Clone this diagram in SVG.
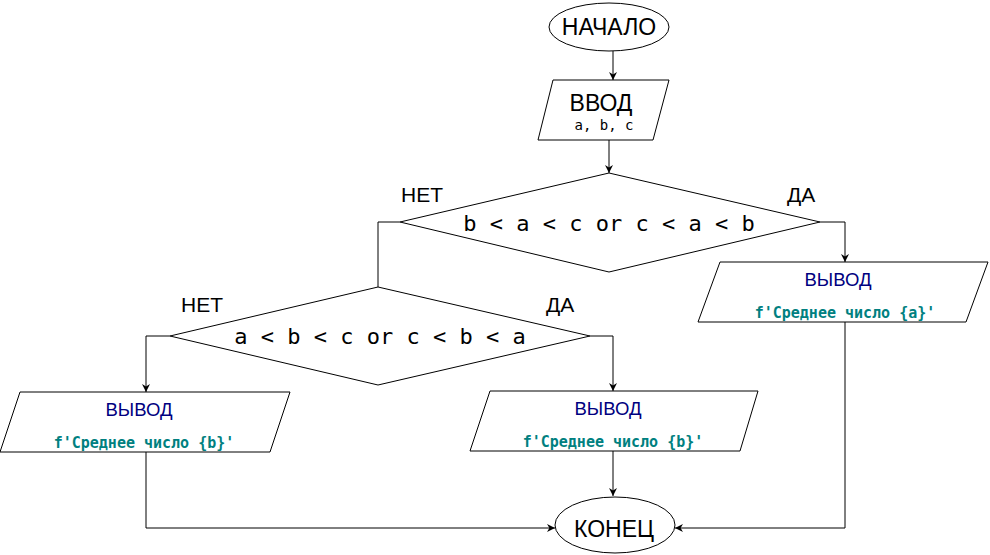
<svg xmlns="http://www.w3.org/2000/svg" width="990" height="555" viewBox="0 0 990 555">
<defs>
<marker id="arr" viewBox="0 0 10 10" refX="10" refY="5" markerWidth="8" markerHeight="8" markerUnits="userSpaceOnUse" orient="auto">
<path d="M0,0 L10,5 L0,10 L3,5 Z" fill="#000"/>
</marker>
<style>
.sh{fill:#fff;stroke:#000;stroke-width:1}
.ln{fill:none;stroke:#000;stroke-width:1;marker-end:url(#arr)}
.pl{fill:none;stroke:#000;stroke-width:1}
.t{font-family:"Liberation Sans",Arial,sans-serif;fill:#000}
.big{font-size:23px}
.lbl{font-size:21px}
.out{font-family:"Liberation Sans",Arial,sans-serif;font-size:18.5px;fill:#000080;text-anchor:middle}
.ft{font-family:"DejaVu Sans Mono","Liberation Mono",monospace;font-size:15px;font-weight:bold;fill:#008080;text-anchor:middle}
.cond{font-family:"DejaVu Sans Mono","Liberation Mono",monospace;font-size:22px;fill:#000;text-anchor:middle}
</style>
</defs>
<rect width="990" height="555" fill="#fff"/>
<g id="connectors">
<path class="ln" d="M613,51 L613,80"/>
<path class="ln" d="M609,140 L609,173"/>
<path class="ln" d="M820,222 L845,222 L845,262"/>
<path class="pl" d="M400,222 L378,222 L378,287"/>
<path class="ln" d="M170,336 L146,336 L146,392"/>
<path class="ln" d="M590,336 L613,336 L613,391"/>
<path class="ln" d="M613,451 L613,496"/>
<path class="ln" d="M146,452 L146,528 L555,528"/>
<path class="ln" d="M845,322 L845,528 L675,528"/>
</g>
<g id="start">
<ellipse class="sh" cx="609" cy="27" rx="60" ry="24"/>
<text class="t big" x="609" y="35" text-anchor="middle">НАЧАЛО</text>
</g>
<g id="input">
<polygon class="sh" points="553,80 669,80 653,140 538,140"/>
<text class="t" x="601" y="111" font-size="23" text-anchor="middle">ВВОД</text>
<text x="604" y="130" font-family="DejaVu Sans Mono,Liberation Mono,monospace" font-size="14" text-anchor="middle" fill="#000">a, b, c</text>
</g>
<g id="cond1">
<polygon class="sh" points="609,173 820,222 609,272 400,222"/>
<text class="cond" x="609" y="231">b &lt; a &lt; c or c &lt; a &lt; b</text>
<text class="t lbl" x="401" y="202">НЕТ</text>
<text class="t lbl" x="787" y="202">ДА</text>
</g>
<g id="cond2">
<polygon class="sh" points="378,287 590,336 378,385 170,336"/>
<text class="cond" x="380" y="344">a &lt; b &lt; c or c &lt; b &lt; a</text>
<text class="t lbl" x="181" y="312">НЕТ</text>
<text class="t lbl" x="546" y="312">ДА</text>
</g>
<g id="out-a">
<polygon class="sh" points="720,262 988,262 966,322 698,322"/>
<text class="out" x="838" y="286">ВЫВОД</text>
<text class="ft" x="845" y="318">f'Среднее число {a}'</text>
</g>
<g id="out-b-no">
<polygon class="sh" points="20,392 290,392 270,452 0,452"/>
<text class="out" x="139" y="416">ВЫВОД</text>
<text class="ft" x="144" y="448">f'Среднее число {b}'</text>
</g>
<g id="out-b-yes">
<polygon class="sh" points="490,391 758,391 740,451 470,451"/>
<text class="out" x="608" y="415">ВЫВОД</text>
<text class="ft" x="613" y="447">f'Среднее число {b}'</text>
</g>
<g id="end">
<ellipse class="sh" cx="615" cy="525" rx="60" ry="28"/>
<text class="t big" x="614" y="537" text-anchor="middle">КОНЕЦ</text>
</g>
</svg>
